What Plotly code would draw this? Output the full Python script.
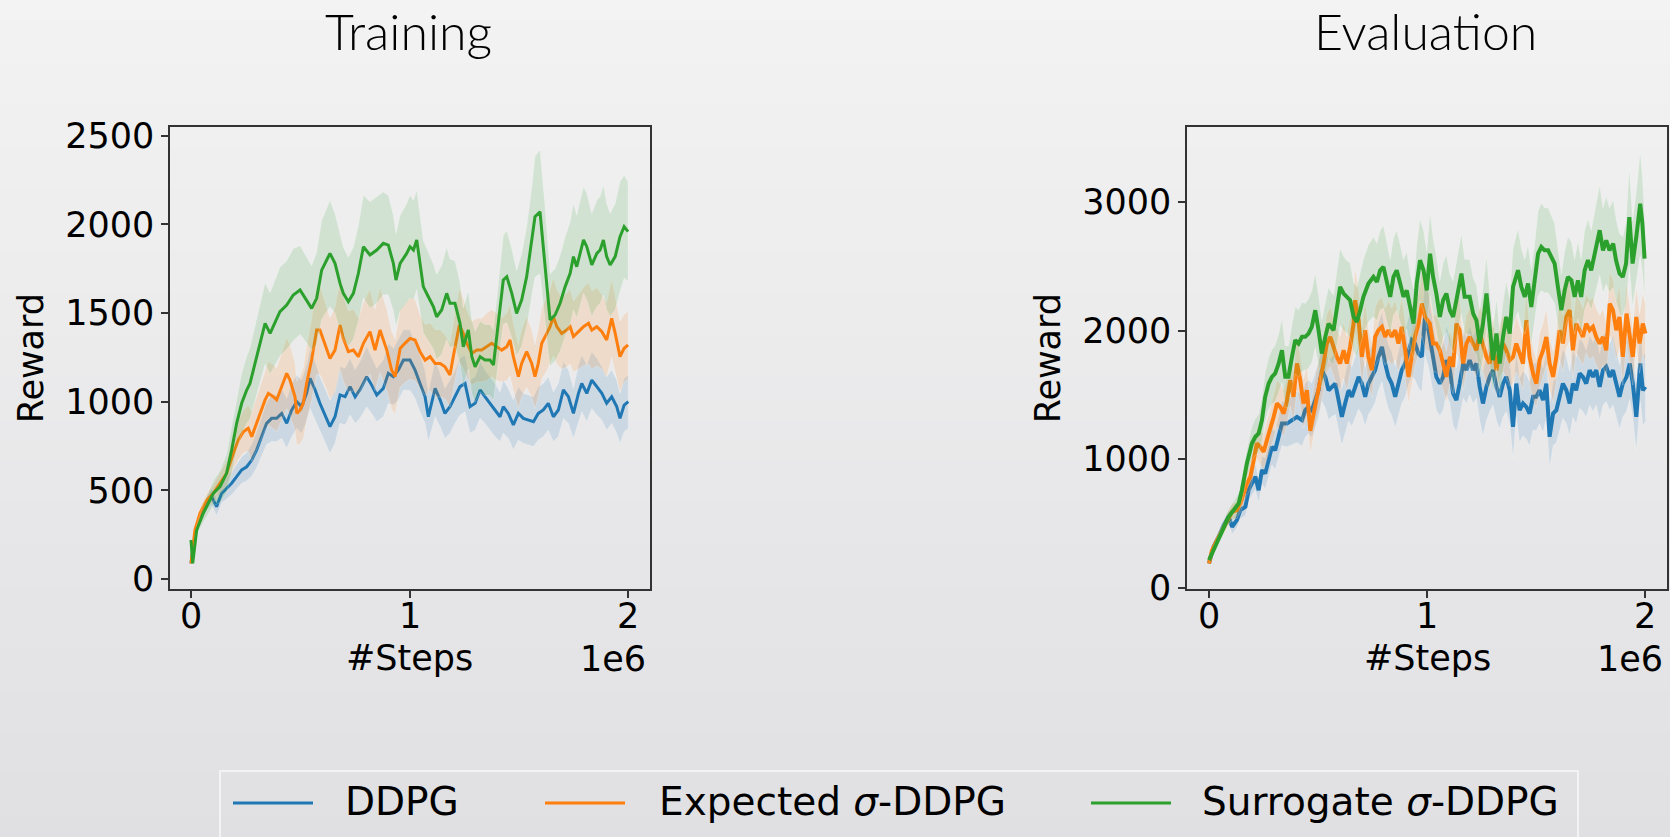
import plotly.graph_objects as go

# ---------------- DATA (x in units of 1e6 steps) ----------------
series_names = ["DDPG", "Expected <i>σ</i>-DDPG", "Surrogate <i>σ</i>-DDPG"]
series_colors = ["#1f77b4", "#ff7f0e", "#2ca02c"]
band_colors = ["rgba(31,119,180,0.15)", "rgba(255,127,14,0.15)", "rgba(44,160,44,0.15)"]

# Training panel
train_ddpg_x = [0, .018, .041, .072, .095, .117, .14, .163, .186, .209,
                .232, .255, .278, .3, .323, .346, .369, .392, .415, .438,
                .461, .484, .506, .529, .545, .568, .59, .613, .636, .659,
                .682, .705, .728, .751, .773, .804, .827, .85, .88, .903,
                .926, .949, .972,
                1.002, 1.025, 1.048, 1.071, 1.086, 1.101, 1.117, 1.14, 1.162, 1.185,
                1.208, 1.231, 1.254, 1.277, 1.3, 1.323, 1.345, 1.368, 1.391, 1.414,
                1.429, 1.452, 1.475, 1.498, 1.521, 1.544, 1.567, 1.589, 1.612, 1.635,
                1.658, 1.681, 1.704, 1.727, 1.75, 1.773, 1.788, 1.811, 1.834, 1.857,
                1.88, 1.902, 1.925, 1.948, 1.963, 1.982, 2.001]
train_ddpg_y = [88, 239, 352, 427, 464, 408, 483, 511, 540, 577,
                615, 633, 671, 727, 803, 878, 906, 906, 934, 878,
                953, 1000, 972, 1047, 1132, 1066, 991, 925, 859, 915,
                1038, 1028, 1085, 1028, 1066, 1141, 1094, 1038, 1075, 1160,
                1141, 1179, 1235,
                1235, 1179, 1103, 1028, 915, 991, 1075, 1010, 934, 972,
                1028, 1085, 1103, 972, 991, 1066, 1028, 991, 953, 915,
                972, 934, 869, 934, 906, 897, 887, 934, 953, 991,
                915, 953, 1066, 1028, 934, 1047, 1103, 1047, 1122, 1085,
                1047, 991, 1028, 972, 906, 981, 1000]
train_ddpg_sd = [10, 20, 30, 40, 45, 50, 55, 60, 65, 70,
                 75, 80, 90, 100, 110, 120, 130, 130, 140, 140,
                 150, 150, 150, 160, 170, 160, 150, 150, 150, 150,
                 160, 160, 160, 150, 160, 170, 160, 150, 160, 170,
                 160, 170, 170,
                 170, 160, 160, 150, 140, 150, 160, 150, 140, 150,
                 150, 160, 160, 150, 150, 160, 150, 150, 150, 140,
                 150, 140, 140, 150, 140, 140, 140, 150, 150, 150,
                 140, 150, 160, 150, 140, 160, 160, 160, 160, 160,
                 150, 150, 150, 150, 140, 150, 150]

train_exp_x = [0, .018, .041, .072, .102, .133, .163, .194, .217, .24,
               .262, .278, .3, .323, .339, .354, .377, .392, .415, .438,
               .453, .476, .484, .499, .514, .529, .552, .575, .59, .613,
               .636, .659, .682, .697, .72, .743, .766, .789, .819, .842,
               .865, .896, .918, .934, .957, .979, 1.002, 1.025, 1.048, 1.071,
               1.094, 1.117, 1.14, 1.162, 1.185, 1.2, 1.216, 1.228, 1.246, 1.262,
               1.285, 1.308, 1.33, 1.353, 1.376, 1.399, 1.422, 1.445, 1.46, 1.475,
               1.498, 1.513, 1.536, 1.559, 1.574, 1.589, 1.605, 1.628, 1.643, 1.658,
               1.674, 1.696, 1.719, 1.735, 1.75, 1.773, 1.796, 1.819, 1.834, 1.857,
               1.88, 1.902, 1.925, 1.941, 1.963, 1.982, 2.0]
train_exp_y = [88, 276, 370, 445, 483, 540, 596, 709, 784, 831,
               850, 803, 878, 953, 1010, 1047, 1028, 1010, 1085, 1160,
               1122, 1028, 934, 953, 991, 1103, 1235, 1404, 1404, 1329,
               1244, 1291, 1432, 1357, 1282, 1291, 1254, 1329, 1395, 1291,
               1404, 1291, 1179, 1141, 1300, 1329, 1357, 1348, 1282, 1235,
               1254, 1216, 1216, 1197, 1150, 1254, 1367, 1432, 1385, 1329,
               1273, 1291, 1291, 1310, 1329, 1310, 1291, 1310, 1348, 1254,
               1141, 1216, 1282, 1216, 1141, 1216, 1329, 1385, 1423, 1479,
               1423, 1385, 1404, 1423, 1367, 1395, 1423, 1442, 1404, 1423,
               1395, 1348, 1470, 1385, 1254, 1301, 1320]
train_exp_sd = [15, 20, 30, 40, 50, 60, 70, 90, 110, 120,
                130, 140, 150, 160, 170, 180, 180, 180, 190, 200,
                200, 190, 180, 190, 200, 210, 230, 250, 250, 240,
                230, 240, 250, 240, 230, 230, 220, 230, 240, 230,
                240, 230, 220, 210, 220, 220, 230, 230, 210, 200,
                190, 190, 190, 180, 180, 190, 200, 210, 200, 190,
                180, 180, 180, 190, 190, 190, 180, 190, 200, 190,
                180, 190, 200, 190, 180, 190, 200, 210, 210, 220,
                210, 200, 210, 210, 200, 210, 220, 230, 220, 220,
                210, 210, 220, 210, 200, 190, 190]

train_sur_x = [0, .008, .026, .056, .102, .133, .163, .186, .209, .232,
               .255, .27, .293, .316, .339, .362, .384, .407, .438, .468,
               .499, .529, .552, .575, .598, .621, .636, .659, .682, .697,
               .72, .743, .766, .789, .819, .85, .88, .903, .926, .938,
               .957, .987, 1.002, 1.018, 1.033, 1.048, 1.063, 1.086, 1.109, 1.124,
               1.147, 1.17, 1.185, 1.208, 1.231, 1.246, 1.269, 1.285, 1.3, 1.323,
               1.345, 1.368, 1.384, 1.406, 1.429, 1.445, 1.468, 1.49, 1.513, 1.536,
               1.559, 1.574, 1.597, 1.62, 1.635, 1.643, 1.666, 1.689, 1.712, 1.735,
               1.75, 1.765, 1.796, 1.811, 1.834, 1.857, 1.872, 1.887, 1.902, 1.918,
               1.941, 1.963, 1.982, 2.0]
train_sur_y = [220, 88, 276, 370, 483, 521, 596, 727, 878, 991,
               1066, 1103, 1216, 1329, 1442, 1385, 1442, 1508, 1545, 1602,
               1630, 1573, 1526, 1583, 1742, 1799, 1836, 1780, 1667, 1611,
               1564, 1611, 1724, 1874, 1827, 1855, 1893, 1883, 1780, 1686,
               1780, 1836, 1874, 1855, 1912, 1780, 1649, 1592, 1536, 1479,
               1517, 1611, 1555, 1555, 1442, 1310, 1404, 1254, 1197, 1254,
               1235, 1235, 1207, 1442, 1686, 1705, 1611, 1498, 1573, 1705,
               1893, 2043, 2071, 1780, 1555, 1461, 1489, 1555, 1649, 1724,
               1818, 1761, 1912, 1874, 1771, 1836, 1855, 1912, 1818, 1771,
               1818, 1930, 1987, 1959]
train_sur_sd = [15, 15, 30, 50, 70, 90, 110, 130, 150, 170,
                190, 200, 210, 220, 230, 230, 240, 250, 250, 260,
                250, 240, 240, 260, 280, 290, 300, 280, 270, 260,
                250, 260, 270, 290, 300, 300, 290, 280, 270, 260,
                270, 280, 290, 280, 280, 270, 260, 250, 240, 240,
                250, 260, 250, 240, 230, 220, 220, 210, 200, 200,
                200, 200, 200, 220, 250, 260, 250, 240, 260, 280,
                310, 340, 350, 320, 280, 260, 260, 270, 280, 290,
                300, 290, 300, 300, 290, 300, 300, 310, 300, 290,
                300, 310, 290, 280]

# Evaluation panel
eval_ddpg_x = [0, .021, .044, .067, .09, .106, .128, .144, .167, .182,
               .197, .213, .228, .243, .258, .274, .289, .304, .32, .335,
               .358, .381, .404, .427, .442, .457, .472, .488, .503, .518,
               .534, .549, .564, .58, .595, .61, .625, .641, .656, .671,
               .687, .702, .717, .732, .748, .763, .778, .794, .809, .824,
               .839, .855, .87, .885, .901, .916, .931, .946, .962, .977,
               .992, 1.008,
               1.029, 1.044, 1.06, 1.075, 1.09, 1.106, 1.121, 1.136,
               1.151, 1.167, 1.182, 1.197, 1.213, 1.228, 1.243, 1.258, 1.274, 1.289,
               1.304, 1.32, 1.335, 1.35, 1.365, 1.381, 1.396, 1.411, 1.426, 1.442,
               1.457, 1.472, 1.488, 1.503, 1.518, 1.534, 1.549, 1.564, 1.58, 1.595,
               1.61, 1.625, 1.641, 1.656, 1.671, 1.686, 1.702, 1.717, 1.732, 1.748,
               1.763, 1.778, 1.794, 1.809, 1.824, 1.84, 1.855, 1.87, 1.885, 1.9,
               1.917, 1.932, 1.946, 1.962, 1.98, 1.992, 2.004]
eval_ddpg_y = [189, 319, 397, 487, 552, 474, 526, 604, 630, 759,
               811, 863, 759, 915, 889, 992, 1096, 1070, 1174, 1277,
               1277, 1303, 1329, 1303, 1381, 1407, 1381, 1459, 1536, 1692,
               1640, 1536, 1562, 1588, 1459, 1329, 1433, 1536, 1485, 1562,
               1640, 1588, 1485, 1588, 1640, 1692, 1795, 1873, 1744, 1640,
               1588, 1485, 1588, 1692, 1744, 1847, 1925, 1899, 1821, 1795,
               2106, 2003,
               1795, 1640, 1588, 1640, 1770, 1692, 1511, 1459,
               1588, 1744, 1692, 1770, 1692, 1744, 1562, 1433, 1562, 1640,
               1692, 1562, 1485, 1588, 1640, 1536, 1251, 1588, 1381, 1433,
               1407, 1355, 1485, 1485, 1536, 1459, 1588, 1174, 1355, 1381,
               1485, 1588, 1536, 1433, 1588, 1536, 1666, 1640, 1588, 1692,
               1640, 1692, 1562, 1692, 1718, 1640, 1692, 1588, 1485, 1588,
               1640, 1744, 1588, 1329, 1744, 1536, 1562]
eval_ddpg_sd = [15, 25, 35, 45, 55, 55, 60, 65, 70, 80,
                90, 100, 100, 110, 120, 130, 140, 150, 160, 170,
                180, 190, 200, 200, 210, 210, 210, 220, 220, 240,
                240, 230, 230, 240, 230, 220, 230, 240, 230, 240,
                250, 240, 230, 240, 250, 250, 260, 270, 260, 250,
                250, 240, 250, 260, 260, 270, 280, 280, 270, 270,
                300, 290,
                270, 260, 250, 260, 270, 260, 250, 250,
                260, 270, 260, 270, 260, 270, 260, 250, 260, 270,
                270, 260, 250, 260, 270, 260, 240, 260, 250, 250,
                250, 250, 260, 260, 260, 250, 260, 240, 250, 250,
                260, 270, 260, 250, 260, 260, 270, 270, 260, 270,
                270, 270, 260, 270, 270, 260, 270, 260, 250, 260,
                270, 280, 270, 260, 290, 270, 270]

eval_exp_x = [0, .014, .037, .06, .083, .106, .128, .144, .159, .174,
              .19, .205, .22, .235, .251, .266, .281, .297, .312, .327,
              .343, .358, .373, .388, .404, .419, .434, .45, .465, .48,
              .495, .511, .526, .541, .557, .572, .587, .602, .618, .633,
              .648, .664, .671, .687, .702, .717, .732, .748, .763, .778,
              .794, .809, .824, .839, .855, .87, .885, .901, .916, .931,
              .946, .962, .977, .992,
              1.014, 1.029, 1.044, 1.06, 1.075, 1.09,
              1.106, 1.121, 1.136, 1.151, 1.167, 1.182, 1.197, 1.213, 1.228, 1.243,
              1.258, 1.274, 1.289, 1.304, 1.32, 1.335, 1.35, 1.365, 1.381, 1.396,
              1.411, 1.426, 1.442, 1.457, 1.472, 1.488, 1.503, 1.518, 1.534, 1.549,
              1.564, 1.58, 1.595, 1.61, 1.625, 1.641, 1.656, 1.671, 1.686, 1.702,
              1.717, 1.732, 1.748, 1.763, 1.778, 1.794, 1.809, 1.824, 1.84, 1.855,
              1.87, 1.885, 1.9, 1.917, 1.932, 1.946, 1.962, 1.977, 1.992, 2.004]
eval_exp_y = [189, 293, 371, 448, 526, 591, 604, 656, 733, 811,
              863, 992, 1122, 1096, 1057, 1148, 1226, 1329, 1433, 1407,
              1355, 1459, 1614, 1485, 1744, 1614, 1433, 1536, 1220, 1355,
              1511, 1614, 1744, 1899, 1951, 1873, 1795, 1744, 1847, 1744,
              1873, 2054, 2236, 2080, 1795, 2003, 1795, 1692, 1951, 2003,
              2029, 1951, 2003, 1951, 2003, 1899, 2029, 1847, 1640, 1795,
              1951, 2054, 2210, 2106,
              2054, 1899, 1899, 1847, 1744, 1640,
              1795, 1718, 2054, 2003, 1744, 1899, 1951, 1899, 1847, 1977,
              1899, 1795, 1744, 1899, 1692, 1847, 1899, 1847, 1770, 1795,
              1899, 1821, 1744, 2080, 1795, 1666, 1588, 1770, 1847, 1951,
              1744, 1640, 1795, 2003, 1899, 2106, 2158, 1847, 2054, 2003,
              1951, 2054, 2003, 2029, 1951, 1899, 1951, 1847, 2210, 2158,
              2003, 2106, 1795, 2132, 1951, 1795, 2106, 1899, 2054, 1977]
eval_exp_sd = [15, 25, 35, 45, 55, 60, 65, 70, 80, 90,
               100, 110, 120, 130, 140, 150, 160, 170, 180, 180,
               180, 190, 200, 190, 210, 200, 190, 200, 180, 190,
               200, 210, 220, 230, 230, 220, 220, 210, 220, 210,
               220, 240, 260, 240, 220, 230, 220, 210, 230, 230,
               230, 220, 230, 220, 230, 220, 230, 220, 210, 220,
               230, 240, 250, 240,
               230, 220, 220, 210, 210, 200,
               210, 210, 230, 230, 210, 220, 220, 220, 210, 220,
               220, 210, 200, 220, 200, 210, 220, 210, 200, 210,
               220, 210, 200, 230, 210, 200, 190, 210, 210, 220,
               200, 200, 210, 230, 220, 240, 240, 220, 230, 230,
               220, 230, 230, 230, 220, 220, 220, 210, 250, 240,
               230, 240, 220, 240, 230, 220, 240, 230, 240, 230]

eval_sur_x = [0, .021, .044, .067, .09, .113, .136, .151, .174, .197,
              .213, .228, .243, .258, .274, .289, .304, .32, .335, .35,
              .365, .381, .396, .411, .427, .442, .457, .472, .488, .503,
              .518, .534, .549, .572, .587, .602, .618, .633, .648, .664,
              .679, .694, .709, .732, .755, .771, .786, .801, .817, .832,
              .847, .862, .878, .893, .908, .924, .939, .954, .969, .985,
              1.0,
              1.015, 1.029, 1.044, 1.06, 1.075, 1.09, 1.106, 1.121, 1.136,
              1.159, 1.174, 1.197, 1.213, 1.228, 1.243, 1.258, 1.274, 1.289, 1.304,
              1.32, 1.335, 1.35, 1.365, 1.381, 1.396, 1.419, 1.434, 1.45, 1.465,
              1.48, 1.495, 1.511, 1.526, 1.541, 1.557, 1.572, 1.587, 1.602, 1.618,
              1.633, 1.648, 1.664, 1.679, 1.694, 1.709, 1.725, 1.74, 1.755, 1.771,
              1.794, 1.809, 1.824, 1.839, 1.856, 1.869, 1.885, 1.9, 1.915, 1.93,
              1.945, 1.962, 1.98, 1.99, 2.0]
eval_sur_y = [215, 293, 371, 462, 552, 604, 656, 759, 967, 1122,
              1174, 1200, 1303, 1485, 1588, 1640, 1666, 1744, 1847, 1640,
              1640, 1795, 1925, 1899, 1951, 1951, 1977, 2029, 2158, 2003,
              1821, 1951, 2054, 2003, 2184, 2340, 2288, 2262, 2236, 2106,
              2067, 2158, 2262, 2366, 2417, 2378, 2469, 2495, 2366, 2262,
              2417, 2469, 2366, 2262, 2313, 2158, 2054, 2366, 2547, 2469,
              2313,
              2598, 2417, 2288, 2106, 2236, 2288, 2158, 2106, 2236,
              2443, 2262, 2262, 2132, 2080, 1899, 2054, 2288, 2003, 1770,
              1977, 1744, 1951, 2106, 1977, 2340, 2469, 2340, 2262, 2366,
              2184, 2366, 2598, 2650, 2624, 2624, 2572, 2521, 2340, 2158,
              2313, 2417, 2391, 2262, 2391, 2262, 2469, 2547, 2469, 2598,
              2780, 2624, 2702, 2624, 2676, 2547, 2443, 2417, 2521, 2883,
              2521, 2728, 2987, 2832, 2560]
eval_sur_sd = [20, 30, 40, 50, 60, 70, 80, 90, 110, 130,
               140, 150, 170, 190, 200, 210, 220, 230, 250, 240,
               240, 250, 260, 260, 270, 260, 270, 280, 290, 270,
               260, 270, 280, 270, 290, 300, 290, 280, 290, 270,
               270, 280, 290, 300, 310, 300, 310, 320, 300, 290,
               300, 310, 300, 290, 300, 280, 270, 300, 320, 310,
               300,
               320, 300, 290, 280, 290, 300, 280, 280, 290,
               310, 290, 290, 280, 270, 260, 270, 290, 270, 250,
               270, 250, 270, 280, 270, 300, 320, 300, 290, 300,
               290, 300, 330, 340, 330, 330, 320, 310, 300, 280,
               300, 310, 300, 290, 300, 290, 310, 320, 310, 330,
               350, 330, 340, 330, 340, 320, 310, 310, 320, 380,
               330, 350, 400, 370, 330]

panel_titles = ["Training", "Evaluation"]
train_yticks = [0, 500, 1000, 1500, 2000, 2500]
eval_yticks = [0, 1000, 2000, 3000]
x_tick_vals = [0, 1, 2]
x_tick_text = ["0", "1", "2"]
x_label = "#Steps"
y_label = "Reward"
x_offset_text = "1e6"

# ---------------- FIGURE ----------------
W, H = 1670, 837
fig = go.Figure()


def px_x(p):
    return p / W


def px_y(p):
    return 1 - p / H


panels = [
    ("x", "y", [(train_ddpg_x, train_ddpg_y, train_ddpg_sd),
                (train_exp_x, train_exp_y, train_exp_sd),
                (train_sur_x, train_sur_y, train_sur_sd)], 3.0),
    ("x2", "y2", [(eval_ddpg_x, eval_ddpg_y, eval_ddpg_sd),
                  (eval_exp_x, eval_exp_y, eval_exp_sd),
                  (eval_sur_x, eval_sur_y, eval_sur_sd)], 4.0),
]

for pi, (xa, ya, ser, lw) in enumerate(panels):
    for si, (xs, ys, sds) in enumerate(ser):
        n = min(len(xs), len(ys), len(sds))
        xs, ys, sds = xs[:n], ys[:n], sds[:n]
        upper = [v + s for v, s in zip(ys, sds)]
        lower = [v - s for v, s in zip(ys, sds)]
        fig.add_trace(go.Scatter(
            x=list(xs) + list(xs[::-1]), y=upper + lower[::-1],
            xaxis=xa, yaxis=ya, fill="toself", fillcolor=band_colors[si],
            line=dict(width=0.6, color="rgba(255,255,255,0.35)"),
            hoverinfo="skip", showlegend=False))
        fig.add_trace(go.Scatter(
            x=xs, y=ys, xaxis=xa, yaxis=ya, mode="lines",
            line=dict(color=series_colors[si], width=lw),
            name=series_names[si], showlegend=False))

# background gradient (decoration)
top_c = (243, 243, 243)
bot_c = (224, 224, 227)
nstrip = 40
for i in range(nstrip):
    t = (i + 0.5) / nstrip
    c = tuple(round(top_c[k] + (bot_c[k] - top_c[k]) * t) for k in range(3))
    fig.add_shape(type="rect", xref="paper", yref="paper",
                  x0=0, x1=1, y0=1 - (i + 1) / nstrip - 0.002, y1=1 - i / nstrip,
                  fillcolor="rgb(%d,%d,%d)" % c, line_width=0, layer="below")

tick_font = dict(family="DejaVu Sans", size=35, color="black")
axis_common = dict(showline=True, linecolor="#333333", linewidth=1.5, mirror=True,
                   ticks="outside", ticklen=7, tickwidth=1.5, tickcolor="#333333",
                   showgrid=False, zeroline=False, tickfont=tick_font, automargin=False)

ydom = [px_y(589.3), px_y(127)]
x_domains = [[px_x(170), px_x(649.5)], [px_x(1187), px_x(1667)]]
fig.update_layout(
    template="none",
    width=W, height=H, margin=dict(l=0, r=0, t=0, b=0, pad=0, autoexpand=False), autosize=False,
    paper_bgcolor="#e9e9eb", plot_bgcolor="rgba(0,0,0,0)",
    showlegend=False,
    xaxis=dict(domain=x_domains[0], range=[-0.096, 2.098],
               tickvals=x_tick_vals, showticklabels=False, anchor="y", **axis_common),
    yaxis=dict(domain=ydom, range=[-58, 2549], tickvals=train_yticks,
               title=dict(text=y_label, font=tick_font, standoff=11), anchor="x", **axis_common),
    xaxis2=dict(domain=x_domains[1], range=[-0.101, 2.103],
                tickvals=x_tick_vals, showticklabels=False, anchor="y2", **axis_common),
    yaxis2=dict(domain=ydom, range=[-12, 3583], tickvals=eval_yticks,
                title=dict(text=y_label, font=tick_font, standoff=11), anchor="x2", **axis_common),
)

# x tick labels, x-axis titles and matplotlib-style offset text (placed like matplotlib)
for xref, dom in zip(["x", "x2"], x_domains):
    for tv, tt in zip(x_tick_vals, x_tick_text):
        fig.add_annotation(text=tt, xref=xref, yref="paper", x=tv, y=px_y(616),
                           xanchor="center", yanchor="middle", showarrow=False, font=tick_font)
    fig.add_annotation(text=x_label, xref="paper", yref="paper", x=(dom[0] + dom[1]) / 2,
                       y=px_y(658), xanchor="center", yanchor="middle", showarrow=False,
                       font=tick_font)
    fig.add_annotation(text=x_offset_text, xref="paper", yref="paper", x=dom[1] - 2 / W,
                       y=px_y(659), xanchor="right", yanchor="middle", showarrow=False,
                       font=tick_font)

# panel titles
title_x = [px_x(408), px_x(1425)]
for t, tx in zip(panel_titles, title_x):
    fig.add_annotation(text=t, xref="paper", yref="paper", x=tx, y=px_y(31),
                       xanchor="center", yanchor="middle", showarrow=False,
                       font=dict(family="Lato", size=50, color="black", weight=300))

# legend (box, key lines, labels)
fig.add_shape(type="rect", xref="paper", yref="paper",
              x0=px_x(220), x1=px_x(1578), y0=px_y(850), y1=px_y(771),
              line=dict(color="#f3f3f3", width=2), fillcolor="rgba(0,0,0,0)", layer="above")
legend_line_x0 = [233, 545, 1091]
legend_text_x0 = [343, 657, 1200]
for name, col, lx, tx in zip(series_names, series_colors, legend_line_x0, legend_text_x0):
    fig.add_shape(type="line", xref="paper", yref="paper",
                  x0=px_x(lx), x1=px_x(lx + 80), y0=px_y(803), y1=px_y(803),
                  line=dict(color=col, width=3), layer="above")
    fig.add_annotation(text=name, xref="paper", yref="paper", x=px_x(tx), y=px_y(801),
                       xanchor="left", yanchor="middle", showarrow=False,
                       font=dict(family="DejaVu Sans", size=39, color="black"))

post = ("var d=document.getElementById('{plot_id}');"
        "d.style.position='fixed';d.style.left='0px';d.style.top='0px';"
        "document.body.style.margin='0px';document.body.style.overflow='hidden';"
        "document.documentElement.style.overflow='hidden';")
fig.write_html("out.html", config={"displayModeBar": False, "responsive": False},
               post_script=post)
